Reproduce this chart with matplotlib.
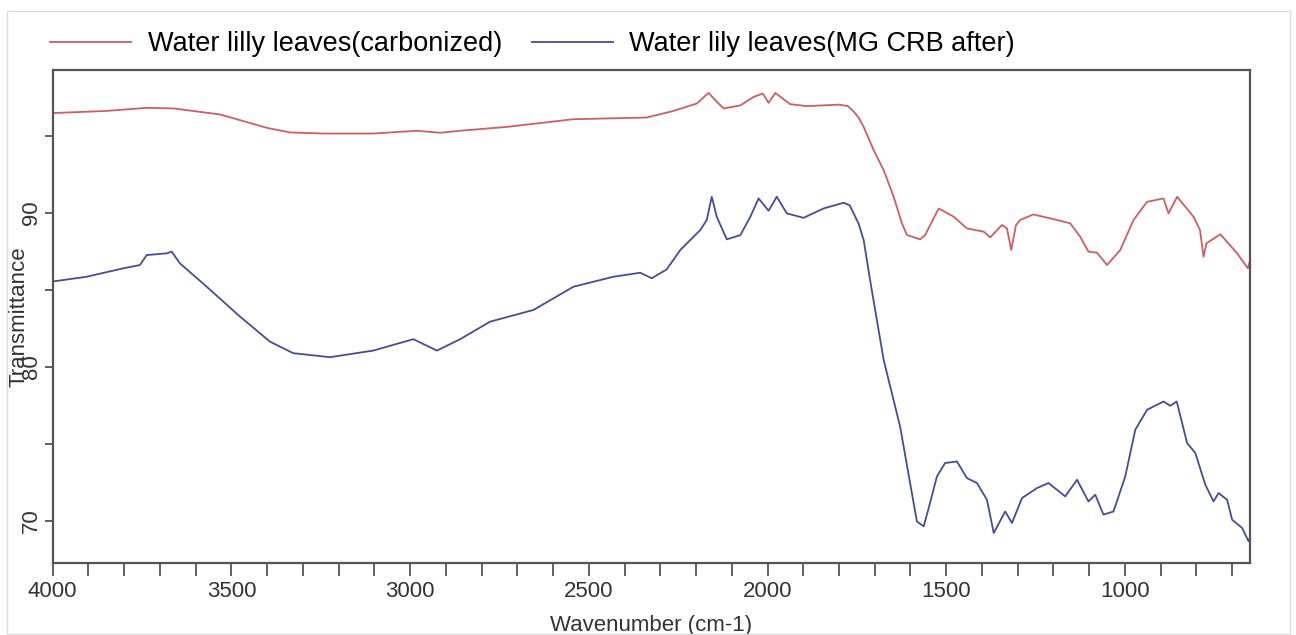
import numpy as np
import matplotlib
matplotlib.use('Agg')
import matplotlib.pyplot as plt
from matplotlib.ticker import MultipleLocator
from matplotlib.patches import Rectangle

plt.rcParams['font.family'] = ['Liberation Sans', 'DejaVu Sans']

# FTIR spectra
wn_carb = [4000, 3849, 3737, 3662, 3532, 3476, 3401, 3336, 3243, 3103, 2981, 2916,
           2860, 2730, 2543, 2338, 2263, 2198, 2165, 2146, 2123, 2076, 2039, 2013,
           1997, 1978, 1937, 1890, 1800, 1775, 1759, 1745, 1731, 1703, 1675, 1647, 1625, 1610, 1573,
           1559, 1521, 1479, 1442, 1395, 1377, 1344, 1330, 1318, 1305, 1293, 1256,
           1190, 1153, 1125, 1102, 1078, 1050, 1013, 976, 938, 892, 878, 854, 808,
           790, 780, 772, 733, 686, 656, 650]
t_carb = [96.5, 96.64, 96.84, 96.8, 96.41, 96.04, 95.54, 95.24, 95.17, 95.17, 95.35, 95.22,
          95.35, 95.6, 96.1, 96.21, 96.64, 97.12, 97.81, 97.34, 96.8, 97.0, 97.55, 97.77,
          97.16, 97.81, 97.08, 96.95, 97.05, 96.95, 96.6, 96.2, 95.6, 94.09, 92.79, 91.06, 89.4, 88.57, 88.29,
          88.57, 90.3, 89.76, 89.0, 88.79, 88.42, 89.22, 89.0, 87.6, 89.2, 89.55, 89.91,
          89.55, 89.33, 88.46, 87.49, 87.42, 86.62, 87.6, 89.55, 90.73, 90.95, 89.98, 91.06, 89.76,
          88.9, 87.16, 88.03, 88.62, 87.38, 86.41, 86.9]

wn_mg = [4000, 3905, 3802, 3756, 3737, 3681, 3667, 3644, 3569, 3476, 3392, 3327, 3224,
         3103, 2991, 2925, 2860, 2776, 2655, 2543, 2431, 2356, 2324, 2282, 2244, 2188,
         2170, 2156, 2142, 2114, 2076, 2048, 2025, 1997, 1974, 1946, 1899, 1843, 1787,
         1770, 1759, 1745, 1731, 1713, 1675, 1629, 1582, 1563, 1549, 1526, 1503, 1470, 1442, 1414,
         1386, 1367, 1335, 1316, 1288, 1246, 1214, 1167, 1134, 1102, 1083, 1060, 1032,
         999, 971, 938, 892, 873, 855, 826, 803, 775, 752, 738, 714, 700, 672, 654, 650]
t_mg = [85.55, 85.86, 86.41, 86.62, 87.27, 87.38, 87.49, 86.73, 85.21, 83.27, 81.64, 80.89, 80.63,
        81.06, 81.8, 81.06, 81.8, 82.94, 83.7, 85.21, 85.86, 86.12, 85.76, 86.34, 87.6, 88.9,
        89.55, 91.06, 89.76, 88.29, 88.57, 89.76, 90.95, 90.15, 91.06, 89.98, 89.69, 90.3, 90.67,
        90.5, 89.98, 89.3, 88.25, 85.65, 80.45, 76.12, 69.95, 69.63, 70.82, 72.88, 73.75, 73.85, 72.77, 72.45,
        71.36, 69.2, 70.6, 69.85, 71.47, 72.12, 72.45, 71.58, 72.66, 71.25, 71.69, 70.39, 70.6,
        72.88, 75.91, 77.21, 77.75, 77.47, 77.75, 75.05, 74.4, 72.34, 71.25, 71.8, 71.36, 70.06,
        69.53, 68.66, 68.9]

lbl_carb = 'Water lilly leaves(carbonized)'
lbl_mg = 'Water lily leaves(MG CRB after)'

W, H = 1296, 635
fig = plt.figure(figsize=(W/100, H/100), dpi=100)
ax = fig.add_axes([52.7/W, 1-563/H, (1250-52.7)/W, (563-70)/H])

ax.plot(wn_carb, t_carb, color='#cc5f60', lw=1.3, label=lbl_carb)
ax.plot(wn_mg, t_mg, color='#4a4a9a', lw=1.3, label=lbl_mg)

ax.set_xlim(4000, 650)
ax.set_ylim(67.25, 99.3)

ax.xaxis.set_major_locator(MultipleLocator(500))
ax.xaxis.set_minor_locator(MultipleLocator(100))
ax.yaxis.set_major_locator(MultipleLocator(10))
ax.yaxis.set_minor_locator(MultipleLocator(5))

ax.tick_params(axis='x', which='both', direction='out', length=9, width=1.3,
               color='#555555', labelsize=16, labelcolor='#333333', pad=4)
ax.tick_params(axis='y', which='both', direction='out', length=5.5, width=1.3,
               color='#555555', labelsize=16, labelcolor='#333333', pad=2)
for t in ax.get_yticklabels():
    t.set_rotation(90)
    t.set_va('center')

for s in ax.spines.values():
    s.set_color('#555555')
    s.set_linewidth(1.6)

ax.set_xlabel('Wavenumber (cm-1)', fontsize=16, color='#333333', va='center')
ax.xaxis.set_label_coords(0.5, -0.126)
ax.set_ylabel('Transmittance', fontsize=16, color='#333333', va='center')
ax.yaxis.set_label_coords(-0.028, 0.5)

fig.legend(loc='center left', bbox_to_anchor=(50/W, 1-44/H), ncol=2, frameon=False,
           fontsize=19.5, handlelength=3.0, handletextpad=0.6, columnspacing=1.1,
           borderaxespad=0, borderpad=0)

# faint outer frame
fig.patches.append(Rectangle((7/W, 1/H), (1290-7)/W, (624-1)/H, transform=fig.transFigure,
                             fill=False, edgecolor='#dddddd', lw=1))

fig.savefig('out.png', dpi=100)
